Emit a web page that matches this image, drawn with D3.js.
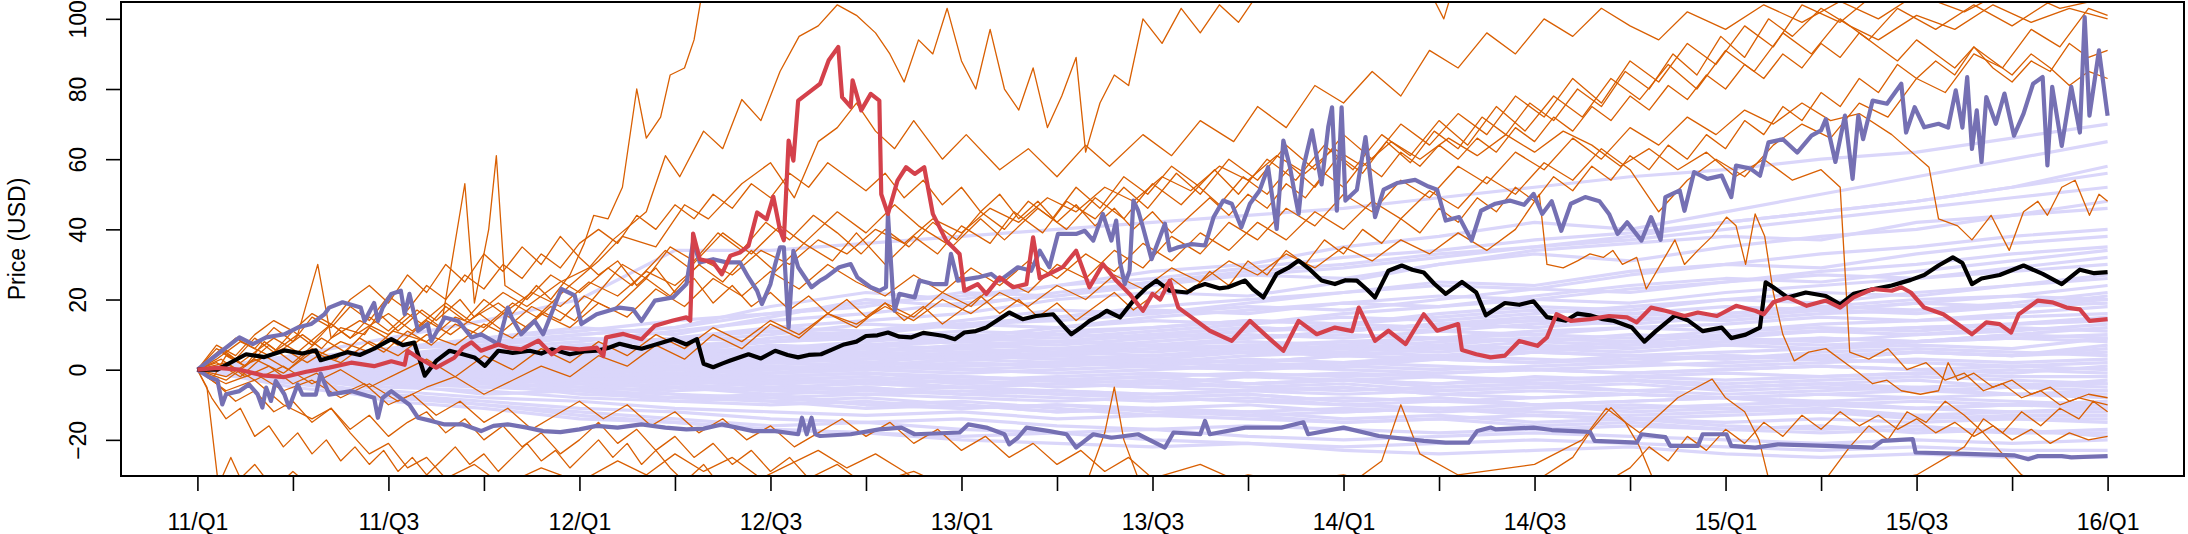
<!DOCTYPE html>
<html>
<head>
<meta charset="utf-8">
<script src="https://cdn.jsdelivr.net/npm/d3@7"></script>
<style>
body { margin: 0; background: #fff; }
text { font-family: "Liberation Sans", Arial, Helvetica, sans-serif; }
</style>
</head>
<body>
<div id="svgWrapper"></div>
<script>

// time is counted in quarters since 2011/Q1 (0 = 11/Q1, 20 = 16/Q1)
var quarterTicks = [0,1,2,3,4,5,6,7,8,9,10,11,12,13,14,15,16,17,18,19,20];
var quarterLabels = ["11/Q1","","11/Q3","","12/Q1","","12/Q3","","13/Q1","","13/Q3","","14/Q1","","14/Q3","","15/Q1","","15/Q3","","16/Q1"];
var priceTicks = [-20, 0, 20, 40, 60, 80, 100];

// background portfolios, one value per quarter
var lavenderLines = [
	[0,3,6,8,10,12,18,22,20,24,28,30,35,38,42,40,45,50,55,60,65],
	[0,2,5,9,12,10,15,20,18,22,25,28,30,33,35,38,42,45,48,52,56],
	[0,4,3,7,9,8,12,14,16,20,22,21,25,30,33,31,35,38,40,44,48],
	[0,1,4,6,5,8,10,13,12,15,18,20,22,25,24,28,30,33,35,38,40],
	[0,2,2,5,7,6,9,11,13,14,16,18,17,20,23,22,25,28,30,33,35],
	[0,-1,3,4,6,7,8,10,9,12,14,13,16,18,20,19,22,24,26,28,30],
	[0,1,2,3,5,4,6,8,10,9,11,13,15,14,16,18,20,19,22,24,26],
	[0,0,1,3,2,4,5,7,6,8,10,9,11,13,12,14,16,18,17,19,22],
	[0,1,-1,2,3,5,4,5,7,6,8,10,9,11,10,12,13,15,14,16,18],
	[0,-1,0,1,2,1,3,4,3,5,6,7,6,8,9,8,10,11,12,13,15],
	[0,0,1,0,1,2,2,3,4,3,4,5,6,5,7,6,8,9,8,10,12],
	[0,1,0,-1,0,1,0,2,1,2,3,2,4,3,5,4,5,6,7,6,9],
	[0,-1,-2,-1,0,-1,0,1,0,1,2,1,2,3,2,3,4,3,5,4,6],
	[0,0,-1,-2,-1,-2,-1,0,-1,0,1,0,1,0,1,2,1,2,3,2,3],
	[0,-1,-2,-3,-2,-3,-4,-3,-2,-3,-2,-1,-2,-1,0,-1,0,1,0,1,0],
	[0,-2,-3,-2,-4,-3,-5,-4,-5,-4,-5,-4,-3,-4,-3,-2,-3,-2,-1,-2,-2],
	[0,-1,-3,-4,-5,-6,-5,-6,-7,-6,-7,-6,-7,-6,-5,-6,-5,-4,-5,-4,-5],
	[0,-2,-4,-5,-6,-7,-8,-7,-8,-9,-8,-9,-8,-9,-8,-7,-8,-7,-8,-7,-8],
	[0,-3,-5,-6,-8,-9,-10,-9,-11,-10,-11,-12,-11,-12,-11,-10,-11,-10,-11,-12,-11],
	[0,-2,-6,-8,-9,-11,-12,-13,-12,-14,-13,-14,-15,-14,-13,-14,-15,-14,-15,-14,-14],
	[0,-4,-7,-9,-11,-12,-14,-15,-14,-16,-17,-16,-17,-18,-17,-16,-17,-18,-17,-18,-17],
	[0,-5,-8,-10,-12,-14,-16,-15,-17,-18,-17,-19,-20,-19,-18,-19,-20,-21,-20,-21,-20],
	[0,-3,-9,-11,-14,-15,-17,-18,-19,-18,-20,-21,-22,-21,-20,-21,-22,-23,-22,-23,-23],
	[0,3,5,4,7,9,11,10,13,15,17,16,19,21,20,23,25,27,26,29,32],
	[0,2,4,6,8,11,14,16,19,21,24,27,29,32,35,37,40,43,46,49,52],
	[0,1,3,2,4,6,5,7,9,8,10,12,11,13,15,14,16,18,20,21,24],
	[0,0,2,1,3,2,4,3,5,4,6,5,7,6,8,7,9,8,10,11,13],
	[0,-1,1,0,-1,0,-1,1,0,-1,0,1,0,-1,0,-1,0,1,0,-1,1],
	[0,-2,-1,-3,-2,-4,-3,-2,-4,-3,-4,-2,-3,-4,-2,-3,-4,-3,-2,-3,-4],
	[0,-1,-4,-3,-6,-5,-7,-6,-5,-7,-8,-7,-9,-8,-10,-9,-8,-10,-9,-10,-9],
	[0,-3,-4,-7,-6,-9,-8,-10,-11,-10,-12,-13,-12,-11,-13,-14,-13,-12,-14,-13,-13],
	[0,4,9,14,20,34,34,36,38,40,42,44,46,49,52,55,57,60,62,66,70],
	[0,2,6,7,10,12,16,18,22,21,25,27,26,30,34,36,38,37,42,44,46],
	[0,1,1,3,4,3,6,7,8,7,9,11,12,11,13,15,14,16,17,18,20],
	[0,-1,0,-1,-2,-1,-2,-1,-3,-2,-1,-2,-1,-2,-3,-2,-1,-2,-1,0,-1],
	[0,-2,-5,-4,-7,-8,-9,-11,-10,-12,-11,-10,-12,-11,-12,-13,-12,-11,-13,-12,-12],
	[0,-3,-7,-10,-13,-15,-17,-18,-20,-21,-22,-21,-23,-24,-23,-22,-24,-25,-24,-25,-25],
	[0,1,3,5,4,6,8,9,11,10,12,14,13,15,17,16,18,17,19,21,20],
	[0,1,2,1,3,4,3,5,4,6,5,7,8,7,9,8,10,11,10,12,11],
	[0,-1,-1,0,-1,0,1,0,2,1,3,2,1,3,2,4,3,4,5,4,5],
	[0,0,-2,-1,-3,-2,-3,-4,-3,-5,-4,-5,-4,-6,-5,-4,-6,-5,-6,-5,-6],
	[0,-1,-3,-2,-4,-5,-6,-5,-7,-8,-9,-8,-10,-9,-10,-11,-10,-9,-11,-10,-10],
	[0,2,1,3,2,4,5,4,6,5,7,6,8,9,8,10,9,11,12,13,14],
	[0,1,0,2,1,0,2,1,3,2,1,3,2,4,3,2,4,3,5,4,7],
	[0,-2,-2,-4,-3,-5,-4,-6,-5,-6,-7,-6,-5,-7,-6,-7,-8,-7,-6,-7,-7],
	[0,-1,-2,-4,-5,-4,-6,-7,-6,-7,-8,-9,-10,-11,-10,-12,-11,-12,-13,-14,-15],
	[0,0,1,2,1,2,3,2,4,3,2,4,5,4,6,5,7,6,8,9,10],
	[0,-1,0,-2,-1,-3,-2,-1,-2,-3,-2,-4,-3,-2,-4,-3,-5,-4,-3,-5,-3],
	[0,1,2,4,3,5,6,5,7,8,7,9,10,9,11,12,11,13,14,15,16],
	[0,-1,1,2,1,3,2,4,3,5,4,6,5,7,6,8,7,9,8,10,9],
	[0,0,-1,1,0,2,1,0,2,1,3,2,4,3,5,4,3,5,6,5,4],
	[0,-2,-1,-3,-2,-1,-3,-2,-4,-3,-2,-4,-3,-5,-4,-3,-5,-4,-6,-5,-4],
	[0,-1,-3,-2,-5,-4,-6,-5,-7,-6,-8,-7,-9,-8,-10,-9,-8,-10,-11,-10,-11],
	[0,2,3,2,4,6,5,7,8,10,9,11,13,12,14,16,15,17,19,18,21],
	[0,1,3,4,6,5,8,9,8,11,12,14,13,16,18,17,20,22,21,24,27],
	[0,3,2,5,7,9,8,11,13,12,15,17,19,18,21,24,26,25,28,31,34],
	[0,2,4,7,6,9,12,11,14,17,16,19,22,24,23,27,30,29,33,36,38],
	[0,-1,-3,-5,-4,-7,-9,-8,-10,-12,-11,-13,-15,-14,-16,-15,-17,-16,-18,-17,-19],
	[0,-2,-4,-3,-6,-8,-7,-10,-9,-11,-13,-12,-14,-13,-15,-14,-16,-17,-16,-18,-18],
	[0,1,0,-1,1,0,-1,0,1,2,1,0,2,1,0,1,2,3,2,1,2],
	[0,0,2,3,2,3,4,6,5,6,7,8,7,9,10,9,11,12,11,13,14],
	[0,-1,-2,-2,-3,-3,-2,-4,-5,-4,-5,-6,-5,-7,-8,-7,-8,-9,-8,-9,-10],
	[0,2,1,3,5,4,7,6,9,8,10,12,11,13,14,13,15,17,16,18,19],
	[0,1,2,0,1,3,2,1,3,4,3,5,4,6,5,7,8,7,8,9,8],
	[0,-1,0,-2,-3,-2,-4,-3,-5,-4,-3,-5,-6,-5,-4,-6,-7,-6,-5,-7,-6],
	[0,3,6,9,11,14,16,19,21,24,26,29,32,34,37,39,42,45,48,52,58]
];

// highlighted single stocks, [quarter, price]
var orange01 = [[0,0],[0.15,-3],[0.3,4],[0.5,1],[0.7,8],[0.85,5],[1.1,10],[1.3,6],[1.5,12],[1.75,10],[1.9,16],[2.1,11],[2.35,17],[2.5,14],[2.75,20],[2.9,15],[3.15,19],[3.3,16],[3.55,24],[3.7,20],[3.9,27],[4.05,36],[4.15,44],[4.3,43],[4.45,52],[4.6,80],[4.7,66],[4.85,72],[4.95,84],[5.1,86],[5.2,94],[5.3,110],[6.5,118],[20,130]];
var orange02 = [[0,0],[0.25,6],[0.45,2],[0.8,9],[1.05,5],[1.4,13],[1.6,9],[2.0,16],[2.25,11],[2.6,19],[2.85,14],[3.2,22],[3.45,18],[3.8,25],[4.1,29],[4.35,37],[4.7,45],[4.9,61],[5.05,55],[5.3,68],[5.5,63],[5.7,77],[5.9,71],[6.1,85],[6.3,95],[6.5,98],[6.7,104],[6.9,101],[7.1,96],[7.25,90],[7.4,82],[7.55,94],[7.7,90],[7.85,103],[8.0,88],[8.15,80],[8.3,97],[8.45,80],[8.6,74],[8.75,86],[8.9,69],[9.05,78],[9.2,89],[9.3,62],[9.45,76],[9.6,84],[9.75,81],[9.9,100],[10.1,93],[10.3,103],[10.5,96],[10.7,104],[10.9,99],[11.1,107],[11.5,114],[12.9,108],[13.05,100],[13.15,109],[20,125]];
var orange03 = [[0,0],[0.3,-3],[0.55,2],[0.9,6],[1.15,2],[1.5,8],[1.8,5],[2.05,11],[2.4,8],[2.7,15],[3.0,12],[3.3,19],[3.55,15],[3.9,24],[4.2,31],[4.45,38],[4.8,35],[5.1,47],[5.35,43],[5.7,53],[6.0,59],[6.25,49],[6.5,65],[6.7,69],[6.9,76],[7.1,68],[7.3,63],[7.5,71],[7.8,60],[8.05,67],[8.4,57],[8.7,63],[9.0,55],[9.3,64],[9.55,58],[9.9,67],[10.2,61],[10.5,71],[10.85,65],[11.1,75],[11.4,69],[11.7,81],[12.0,76],[12.3,85],[12.6,78],[12.9,91],[13.2,86],[13.5,96],[13.8,90],[14.1,100],[14.4,95],[14.7,103],[15,98],[15.3,94],[15.6,102],[16,97],[16.4,104],[16.8,99],[17.2,105],[17.6,100],[18,107],[18.5,102],[19,109],[19.5,103],[20,106]];
var orange04 = [[0,0],[0.2,3],[0.45,8],[0.75,4],[1.05,10],[1.26,30],[1.4,9],[1.7,14],[2.0,10],[2.3,17],[2.55,12],[2.8,53],[2.9,19],[3.05,40],[3.13,61],[3.22,24],[3.45,20],[3.7,27],[4.0,22],[4.3,29],[4.55,24],[4.9,34],[5.15,29],[5.5,39],[5.8,33],[6.1,41],[6.35,36],[6.7,45],[7.0,39],[7.3,47],[7.55,41],[7.9,35],[8.2,43],[8.45,37],[8.8,46],[9.1,40],[9.4,49],[9.7,43],[10.0,53],[10.3,47],[10.65,57],[10.9,50],[11.2,60],[11.5,54],[11.8,64],[12.1,57],[12.4,67],[12.7,61],[13.0,71],[13.3,64],[13.6,75],[13.9,68],[14.2,78],[14.5,72],[14.8,83],[15.1,77],[15.4,87],[15.7,80],[16.0,91],[16.3,85],[16.6,96],[16.9,90],[17.2,100],[17.5,94],[17.8,103],[18.2,97],[18.6,104],[19,98],[19.4,105],[20,110]];
var orange05 = [[0,0],[0.25,5],[0.5,1],[0.75,7],[1.0,2],[1.3,9],[1.55,5],[1.8,12],[2.1,7],[2.4,14],[2.65,10],[2.95,16],[3.2,11],[3.5,18],[3.8,14],[4.05,21],[4.35,17],[4.7,26],[4.95,21],[5.25,30],[5.5,25],[5.8,34],[6.05,28],[6.35,36],[6.65,31],[6.9,39],[7.2,30],[7.5,38],[7.75,33],[8.0,41],[8.3,36],[8.55,45],[8.85,39],[9.1,48],[9.4,43],[9.7,52],[9.95,46],[10.25,56],[10.5,50],[10.8,60],[11.1,54],[11.4,64],[11.7,57],[12.0,67],[12.3,60],[12.6,70],[12.9,64],[13.2,73],[13.5,67],[13.8,78],[14.1,72],[14.4,83],[14.7,76],[15.0,88],[15.3,82],[15.6,93],[15.9,87],[16.2,98],[16.5,92],[16.8,104],[17.2,99],[17.6,108],[20,118]];
var orange06 = [[0,0],[0.3,-2],[0.6,3],[0.9,-1],[1.2,5],[1.5,2],[1.8,8],[2.1,4],[2.4,10],[2.7,7],[3.0,13],[3.3,9],[3.6,16],[3.9,12],[4.2,19],[4.5,15],[4.8,23],[5.1,18],[5.4,26],[5.7,21],[6.0,28],[6.3,23],[6.6,30],[6.9,25],[7.2,21],[7.5,27],[7.8,22],[8.1,29],[8.4,24],[8.7,31],[9.0,26],[9.3,33],[9.6,28],[9.9,36],[10.2,31],[10.5,39],[10.8,34],[11.1,42],[11.4,37],[11.7,45],[12.0,40],[12.3,48],[12.6,43],[12.9,51],[13.2,46],[13.5,55],[13.8,50],[14.1,59],[14.4,54],[14.7,63],[15.0,57],[15.3,45],[15.6,54],[15.9,60],[16.2,55],[16.5,64],[16.8,70],[17.1,66],[17.4,76],[17.7,72],[18.0,83],[18.3,79],[18.6,90],[18.9,86],[19.2,97],[19.5,92],[19.8,103],[20,101]];
var orange07 = [[0,0],[0.2,4],[0.4,9],[0.6,6],[0.8,12],[1.0,8],[1.2,15],[1.4,12],[1.6,18],[1.8,14],[2.0,21],[2.2,17],[2.4,24],[2.6,20],[2.8,27],[3.0,23],[3.2,30],[3.4,26],[3.6,33],[3.8,29],[4.0,36],[4.2,40],[4.4,36],[4.6,44],[4.8,40],[5.0,47],[5.2,43],[5.4,50],[5.6,46],[5.8,53],[6.0,49],[6.2,56],[6.4,52],[6.6,59],[6.8,55],[7.0,51],[7.2,56],[7.4,49],[7.6,54],[7.8,47],[8.0,52],[8.2,45],[8.4,50],[8.6,43],[8.8,48],[9.0,42],[9.2,47],[9.4,41],[9.6,46],[9.8,40],[10.0,45],[10.2,39],[10.4,44],[10.6,49],[10.8,44],[11.0,50],[11.2,46],[11.4,53],[11.6,49],[11.8,56],[12.0,52],[12.2,59],[12.4,55],[12.6,62],[12.8,58],[13.0,64],[13.2,60],[13.4,66],[13.6,62],[13.8,69],[14.0,65],[14.2,72],[14.4,68],[14.6,75],[14.8,71],[15.0,78],[15.2,74],[15.4,81],[15.6,77],[15.8,84],[16.0,80],[16.2,87],[16.4,83],[16.6,90],[16.8,86],[17.0,93],[17.2,89],[17.4,96],[17.6,92],[17.8,88],[18.0,94],[18.2,90],[18.4,86],[18.6,92],[18.8,88],[19.0,84],[19.2,90],[19.4,86],[19.6,81],[19.8,85],[20,83]];
var orange08 = [[0,0],[0.3,-4],[0.6,-1],[0.9,-6],[1.2,-3],[1.5,-8],[1.8,-4],[2.1,-9],[2.4,-5],[2.7,-2],[3.0,-7],[3.3,-3],[3.6,1],[3.9,-2],[4.2,4],[4.5,1],[4.8,7],[5.1,3],[5.4,10],[5.7,6],[6.0,13],[6.3,9],[6.6,16],[6.9,12],[7.2,19],[7.5,15],[7.8,22],[8.1,18],[8.4,26],[8.7,22],[9.0,30],[9.3,26],[9.6,34],[9.9,29],[10.2,38],[10.5,33],[10.8,42],[11.1,37],[11.4,46],[11.7,41],[12.0,50],[12.3,45],[12.6,54],[12.9,49],[13.2,58],[13.5,53],[13.8,62],[14.1,57],[14.4,66],[14.7,60],[15.0,69],[15.3,64],[15.6,72],[15.9,67],[16.2,74],[16.5,70],[16.8,76],[17.1,71],[17.4,73],[17.74,67],[18.13,57.7],[18.23,43],[18.43,41],[18.58,37],[18.78,44],[18.97,34],[19.12,45],[19.27,48],[19.37,44],[19.52,52],[19.66,54],[19.81,44],[19.91,50],[20,48]];
var orange09 = [[0,0],[0.3,2],[0.6,-3],[0.9,1],[1.2,-4],[1.5,0],[1.8,-5],[2.1,-1],[2.4,3],[2.7,-2],[3.0,4],[3.3,0],[3.6,6],[3.9,2],[4.2,8],[4.5,4],[4.8,10],[5.1,6],[5.4,12],[5.7,8],[6.0,14],[6.3,10],[6.6,16],[6.9,13],[7.2,18],[7.5,14],[7.8,20],[8.1,16],[8.4,22],[8.7,18],[9.0,24],[9.3,20],[9.6,27],[9.9,23],[10.2,29],[10.5,25],[10.8,31],[11.1,27],[11.4,33],[11.7,29],[12.0,35],[12.3,31],[12.6,37],[12.9,33],[13.2,39],[13.5,34],[13.8,40],[14.05,50],[14.13,30],[14.3,29],[14.45,31],[14.58,33],[14.72,32],[14.82,34],[14.92,30],[15.07,32],[15.17,23],[15.32,30],[15.47,37],[15.57,30],[15.71,34],[15.86,38],[16.01,43.5],[16.11,41],[16.21,30],[16.31,44.4],[16.41,38],[16.5,22],[16.6,10],[16.72,2.5],[16.87,5],[17.05,6],[17.3,1],[17.4,-1],[17.54,-4],[17.69,-3],[17.84,-6],[18.04,-7],[18.23,-6],[18.33,2],[18.43,-3],[18.6,-1],[18.8,-5],[19.0,-3],[19.2,-7],[19.4,-5],[19.6,-9],[19.8,-7],[20,-8]];
var orange10 = [[0,0],[0.2,6],[0.4,3],[0.6,9],[0.8,5],[1.0,11],[1.2,7],[1.4,13],[1.6,9],[1.8,15],[2.0,11],[2.2,16],[2.4,12],[2.6,18],[2.8,14],[3.0,20],[3.2,16],[3.5,22],[3.8,18],[4.1,25],[4.4,21],[4.7,28],[5.0,24],[5.3,31],[5.6,27],[5.9,34],[6.2,30],[6.5,37],[6.8,33],[7.1,40],[7.4,36],[7.7,43],[8.0,39],[8.3,46],[8.6,42],[8.9,49],[9.2,45],[9.5,52],[9.8,48],[10.1,55],[10.4,51],[10.7,58],[11.0,54],[11.3,61],[11.6,56],[11.9,63],[12.2,58],[12.5,65],[12.8,60],[13.1,66],[13.4,61],[13.7,67],[14.0,62],[14.3,68],[14.6,64],[14.9,58],[15.2,63],[15.5,57],[15.8,62],[16.1,55],[16.4,60],[16.7,54],[17.0,57],[17.2,52],[17.3,5],[17.5,3],[17.7,6],[17.9,0],[18.1,2],[18.3,-3],[18.5,-1],[18.7,-6],[18.9,-4],[19.1,-8],[19.3,-6],[19.5,-10],[19.7,-8],[20,-10]];
var orange11 = [[0,0],[0.1,-5],[0.22,-33],[0.35,-25],[0.45,-31],[0.6,-27],[0.8,-34],[1.0,-29],[1.3,-36],[2,-40],[4,-45],[8,-50],[12,-48],[16,-52],[20,-55]];
var orange12 = [[0,0],[0.15,-8],[0.3,-14],[0.45,-11],[0.6,-19],[0.75,-16],[0.9,-22],[1.05,-18],[1.2,-24],[1.35,-20],[1.5,-26],[1.65,-22],[1.8,-27],[1.95,-23],[2.1,-29],[2.25,-25],[2.4,-30],[2.55,-26],[2.7,-22],[2.85,-27],[3.0,-24],[3.15,-29],[3.3,-25],[3.45,-21],[3.6,-26],[3.75,-23],[3.9,-28],[4.05,-24],[4.2,-20],[4.35,-25],[4.5,-21],[4.65,-27],[4.8,-23],[4.95,-28],[5.1,-32],[5.3,-27],[5.5,-34],[6,-38],[8,-40],[9.3,-33],[9.5,-18],[9.6,-5],[9.7,-20],[9.85,-31],[11,-38],[14,-40],[20,-45]];
var orange13 = [[0,0],[0.2,-4],[0.4,-9],[0.6,-6],[0.8,-12],[1.0,-9],[1.2,-15],[1.4,-11],[1.6,-17],[1.8,-13],[2.0,-19],[2.2,-15],[2.4,-12],[2.6,-18],[2.8,-14],[3.0,-20],[3.2,-16],[3.4,-22],[3.6,-18],[3.8,-24],[4.0,-20],[4.2,-15],[4.4,-21],[4.6,-17],[4.8,-23],[5.0,-19],[5.2,-25],[5.4,-21],[5.6,-27],[5.8,-23],[6.0,-29],[6.2,-25],[6.4,-31],[6.7,-27],[7.0,-33],[7.5,-29],[8.0,-35],[9,-32],[10,-36],[11,-30],[12,-34],[12.4,-26],[12.6,-10],[12.8,-24],[13.2,-30],[14,-27],[14.5,-20],[14.75,-11],[14.9,-14],[15.1,-18],[15.3,-13],[15.5,-8],[15.7,-5],[15.86,-2.7],[16.0,-8],[16.2,-12],[16.35,-20],[16.45,-31],[17,-35],[18,-30],[18.5,-22],[18.7,-14],[18.9,-18],[19.1,-12],[19.3,-16],[19.5,-11],[19.7,-14],[19.85,-9],[20,-12]];
var orange14 = [[0,0],[0.25,3],[0.5,-2],[0.75,1],[1.0,-4],[1.25,-1],[1.5,-7],[1.75,-4],[2.0,-10],[2.25,-7],[2.5,-13],[2.75,-9],[3.0,-15],[3.25,-11],[3.5,-17],[3.75,-13],[4.0,-9],[4.25,-14],[4.5,-10],[4.75,-16],[5.0,-12],[5.25,-18],[5.5,-14],[5.75,-20],[6.0,-16],[6.25,-22],[6.5,-18],[6.75,-14],[7.0,-19],[7.25,-15],[7.5,-21],[7.75,-17],[8.0,-23],[8.25,-19],[8.5,-25],[8.75,-21],[9.0,-27],[9.25,-23],[9.5,-29],[9.75,-25],[10,-31],[10.5,-27],[11,-33],[12,-30],[13,-36],[14,-32],[14.4,-25],[14.6,-17],[14.8,-10.8],[14.95,-15],[15.1,-22],[15.3,-35],[16,-40],[17,-33],[17.3,-22],[17.5,-16],[17.7,-20],[17.9,-12],[18.1,-15],[18.3,-9],[18.5,-13],[18.7,-18],[18.9,-24],[19.1,-30],[19.5,-35],[20,-38]];
var orange15 = [[0,0],[0.3,-6],[0.6,-3],[0.9,-10],[1.2,-14],[1.4,-11],[1.6,-18],[1.8,-24],[2.0,-21],[2.2,-28],[2.4,-25],[2.6,-31],[2.9,-27],[3.2,-33],[3.6,-28],[4.0,-32],[4.4,-26],[4.7,-30],[5.0,-24],[5.3,-29],[5.6,-25],[5.9,-31],[6.2,-27],[6.5,-23],[6.8,-28],[7.1,-24],[7.4,-29],[7.7,-35],[9,-38],[12,-40],[14.5,-36],[15,-28],[15.2,-22],[15.4,-26],[15.6,-19],[15.8,-23],[16.0,-17],[16.2,-21],[16.4,-15],[16.6,-19],[16.8,-13],[17.0,-17],[17.2,-12],[17.4,-16],[17.6,-13],[17.8,-17],[18.0,-14],[18.2,-18],[18.4,-15],[18.6,-19],[18.8,-16],[19.0,-20],[19.2,-17],[19.4,-21],[19.6,-18],[19.8,-20],[20,-19]];
var orange16 = [[0,0],[0.2,7],[0.4,4],[0.6,10],[0.8,14],[1.0,11],[1.2,16],[1.4,13],[1.6,20],[1.8,24],[2.0,19],[2.2,27],[2.4,22],[2.6,30],[2.8,25],[3.0,33],[3.2,28],[3.4,35],[3.6,30],[3.8,38],[4.0,32],[4.2,27],[4.4,31],[4.6,24],[4.8,29],[5.0,22],[5.2,26],[5.4,19],[5.6,24],[5.8,18],[6.0,22],[6.2,17],[6.4,21],[6.6,16],[6.8,20],[7.0,15],[7.2,19],[7.4,14],[7.6,18],[7.8,13],[8.0,17],[8.2,21],[8.4,16],[8.6,20],[8.8,15],[9.0,19],[9.2,14],[9.4,18],[9.6,22],[9.8,17],[10.0,21],[10.2,26],[10.4,22],[10.6,28],[10.8,24],[11.0,31],[11.2,27],[11.4,34],[11.6,30],[11.8,37],[12.0,33],[12.2,40],[12.4,36],[12.6,43],[12.8,39],[13.0,46],[13.2,42],[13.4,49],[13.6,45],[13.8,52],[14.0,48],[14.2,55],[14.4,51],[14.6,58],[14.8,54],[15.0,61],[15.2,57],[15.4,64],[15.6,60],[15.8,67],[16.0,63],[16.2,71],[16.4,67],[16.6,75],[16.8,71],[17.0,79],[17.2,75],[17.4,83],[17.6,79],[17.8,87],[18.0,83],[18.2,88],[18.4,84],[18.6,92],[18.8,86],[19.0,82],[19.2,88],[19.4,85],[19.6,93],[19.8,89],[20,91]];
var orange17 = [[0,0],[0.2,2],[0.45,-2],[0.7,4],[0.95,0],[1.2,6],[1.45,3],[1.7,9],[1.95,5],[2.2,11],[2.45,7],[2.7,13],[2.95,10],[3.2,16],[3.45,12],[3.7,18],[3.95,14],[4.2,22],[4.45,30],[4.7,26],[4.95,35],[5.2,31],[5.45,39],[5.7,34],[5.95,42],[6.2,37],[6.45,44],[6.7,39],[6.95,33],[7.2,40],[7.45,35],[7.7,42],[7.95,37],[8.2,45],[8.45,40],[8.7,48],[8.95,43],[9.2,52],[9.45,46],[9.7,55],[9.95,50],[10.2,58],[10.45,53],[10.7,47],[10.95,55],[11.2,50],[11.45,58],[11.7,52],[11.95,61],[12.2,56],[12.45,65],[12.7,59],[12.95,68],[13.2,63],[13.45,72],[13.7,67],[13.95,76],[14.2,71],[14.45,80],[14.7,75],[14.95,85],[15.2,80],[15.45,90],[15.7,84],[15.95,95],[16.2,89],[16.45,100],[16.7,95],[17,103],[17.3,98],[17.6,94],[18,101],[18.4,97],[18.8,104],[19.2,99],[19.6,103],[20,100]];
var orangeLines = [orange01, orange02, orange03, orange04, orange05, orange06, orange07, orange08, orange09,
	orange10, orange11, orange12, orange13, orange14, orange15, orange16, orange17];

// upper and lower envelope
var upperBand = [[0,0],[0.21,4.4],[0.44,9.2],[0.58,7.3],[0.72,9.2],[0.91,10.1],[1.05,12],[1.19,13],[1.33,15.8],[1.38,17.7],[1.52,19.2],[1.71,17.7],[1.75,13.9],[1.85,19],[1.89,13.9],[1.94,17.7],[2.03,21.6],[2.13,22.5],[2.17,15.8],[2.22,21.6],[2.31,11.1],[2.41,13],[2.45,8.2],[2.59,14.9],[2.73,13.9],[2.87,9.2],[2.97,10.1],[3.15,7.3],[3.25,17.7],[3.29,14.9],[3.39,10.1],[3.53,13.9],[3.62,10.1],[3.81,23],[3.95,21.2],[4.02,13],[4.18,15.8],[4.42,17.7],[4.56,17.2],[4.65,13.9],[4.79,19.7],[4.98,20.6],[5.12,24.4],[5.19,36.4],[5.26,30.6],[5.4,31.5],[5.54,30.6],[5.68,30.6],[5.77,26.3],[5.86,22.5],[5.91,18.7],[6.0,24.4],[6.05,30.1],[6.1,34.9],[6.14,34.9],[6.19,12],[6.24,33.9],[6.29,29.2],[6.43,23.5],[6.52,25.4],[6.58,26.3],[6.72,29.2],[6.84,30.1],[6.91,26.3],[7.05,23.5],[7.14,22.5],[7.21,23.5],[7.23,44.4],[7.28,22.5],[7.3,16.8],[7.35,21.6],[7.51,20.6],[7.56,25.4],[7.7,24.4],[7.84,24.4],[7.89,33],[7.96,25.4],[8.17,26.3],[8.31,27.3],[8.4,25.4],[8.59,29.2],[8.73,28.2],[8.82,33.9],[8.92,29.2],[9.01,38.7],[9.2,38.7],[9.29,39.6],[9.38,36.8],[9.48,44.4],[9.57,36.8],[9.62,42.5],[9.66,30.6],[9.71,24.4],[9.76,28.2],[9.8,48.2],[9.85,45.3],[9.9,40.6],[9.99,31.5],[10.13,41.6],[10.18,34],[10.27,34.9],[10.41,35.8],[10.55,35.4],[10.64,43.5],[10.74,48.2],[10.83,47.3],[10.93,40.6],[11.02,47.3],[11.12,51],[11.21,57.7],[11.3,40.1],[11.37,65.3],[11.44,57.7],[11.49,50],[11.53,44.4],[11.58,57.7],[11.67,68.2],[11.77,52.8],[11.84,69.2],[11.88,74.8],[11.93,45.3],[11.98,74.8],[12.02,48.2],[12.14,51.3],[12.23,66.3],[12.33,43.5],[12.42,51.3],[12.56,53.2],[12.75,54.1],[12.89,52.2],[12.98,51.3],[13.07,42.5],[13.21,43.5],[13.34,36.8],[13.44,45.3],[13.59,47.3],[13.74,48.2],[13.89,47],[13.99,50.1],[14.08,44.4],[14.18,48],[14.28,39.6],[14.38,47.3],[14.53,49.2],[14.68,48],[14.78,44.4],[14.87,38.7],[14.97,42],[15.12,36.8],[15.22,43.5],[15.32,37],[15.37,49.2],[15.52,51.1],[15.57,45.3],[15.67,56.3],[15.81,54.4],[15.96,55.3],[16.06,49.2],[16.11,58.2],[16.26,57.3],[16.36,55.3],[16.45,64.8],[16.6,65.7],[16.75,61.9],[16.9,66.7],[17.0,68.2],[17.05,71.4],[17.15,59.2],[17.25,72.4],[17.33,54.4],[17.39,72.4],[17.44,65.7],[17.54,76.7],[17.69,75.8],[17.84,81.5],[17.89,67.6],[17.98,74.8],[18.08,69.1],[18.23,70.1],[18.33,69],[18.41,79.6],[18.48,69],[18.53,83.4],[18.58,62.9],[18.63,73.9],[18.68,59.2],[18.73,77.7],[18.83,70.1],[18.92,78.7],[19.02,66.7],[19.12,73],[19.22,81.5],[19.32,83.4],[19.37,58.2],[19.42,80.6],[19.52,63.8],[19.62,80.6],[19.71,67.6],[19.76,100.5],[19.81,72.4],[19.91,91],[20,72.4]];
var lowerBand = [[0,0],[0.12,-2.1],[0.21,-3],[0.26,-9.9],[0.3,-7],[0.44,-6.1],[0.54,-4.2],[0.63,-7],[0.68,-10.8],[0.72,-5.1],[0.77,-8.9],[0.82,-3.2],[0.91,-7],[0.96,-10.8],[1.05,-4.2],[1.1,-7.1],[1.24,-7.1],[1.29,-1.1],[1.38,-7.1],[1.61,-6.1],[1.85,-8],[1.89,-13.7],[1.94,-8],[2.03,-6.1],[2.22,-10],[2.31,-13.7],[2.45,-14.6],[2.59,-15.6],[2.78,-15.6],[2.97,-17.5],[3.1,-16],[3.25,-15.6],[3.45,-16.5],[3.62,-17.5],[3.8,-17.8],[4.0,-17],[4.18,-16],[4.4,-16.5],[4.65,-15.6],[4.9,-16.5],[5.12,-17],[5.3,-16.8],[5.49,-15.6],[5.82,-17.5],[6.05,-17.5],[6.29,-18.4],[6.33,-13.7],[6.38,-18.4],[6.43,-13.7],[6.47,-18.4],[6.52,-18.9],[6.84,-18.4],[7.14,-17],[7.37,-16.5],[7.51,-18.4],[7.98,-17.9],[8.07,-15.6],[8.26,-16.5],[8.45,-18.4],[8.5,-21.3],[8.59,-19.4],[8.68,-16.5],[8.92,-17.5],[9.1,-18.4],[9.2,-22.2],[9.38,-18.4],[9.57,-19.4],[9.85,-18.4],[10.13,-22.2],[10.22,-17.9],[10.5,-18.4],[10.55,-14.6],[10.6,-18.4],[10.97,-16.5],[11.35,-16.5],[11.58,-15],[11.63,-18.4],[12.0,-16.5],[12.37,-18.9],[12.84,-20.3],[13.07,-20.8],[13.31,-20.8],[13.4,-17.5],[13.54,-16.5],[13.59,-17],[13.99,-16.5],[14.18,-17.2],[14.58,-17.7],[14.63,-20.3],[15.07,-20.8],[15.12,-18.4],[15.37,-19.2],[15.42,-21.7],[15.71,-21.7],[15.76,-18.4],[16.01,-18.4],[16.06,-21.7],[16.31,-22.2],[16.55,-21.3],[17.05,-21.7],[17.54,-22.2],[17.64,-20.3],[17.96,-19.8],[17.99,-23.6],[18.53,-24],[19.02,-24.4],[19.17,-25.5],[19.27,-24.6],[19.52,-24.6],[19.62,-25],[20,-24.6]];

// median line (black) and the selected stock (red)
var medianLine = [[0,0],[0.21,0],[0.51,4.4],[0.7,3.6],[0.91,5.5],[1.1,4.6],[1.24,5.5],[1.29,2.7],[1.45,4],[1.57,5],[1.7,4.2],[1.85,6],[2.03,8.7],[2.15,7],[2.27,7.7],[2.38,-1.7],[2.5,2.5],[2.64,5.4],[2.78,4.4],[2.9,3.5],[3.01,1.1],[3.15,5.4],[3.3,4.8],[3.48,5.4],[3.6,4.6],[3.71,5.8],[3.9,4.4],[4.05,5.2],[4.18,5.4],[4.3,6.2],[4.42,7.4],[4.55,6.5],[4.65,6],[4.8,7.2],[4.98,8.7],[5.12,7.2],[5.23,8.7],[5.3,1.7],[5.4,0.7],[5.5,1.8],[5.58,2.6],[5.77,4.4],[5.9,3.2],[6.05,5.4],[6.18,4.2],[6.29,3.5],[6.4,4.2],[6.53,4.4],[6.65,5.8],[6.77,7.2],[6.9,8],[7.0,9.6],[7.12,9.8],[7.23,10.6],[7.35,9.4],[7.47,9.2],[7.6,10.5],[7.7,10.1],[7.82,9.6],[7.93,8.7],[8.03,10.6],[8.15,11],[8.26,12],[8.4,14.5],[8.5,16.3],[8.64,14.4],[8.78,15.3],[8.96,15.8],[9.05,13],[9.15,10.1],[9.25,12],[9.34,13.9],[9.45,15.5],[9.52,16.8],[9.66,14.9],[9.8,19.7],[9.94,23.4],[10.04,25.4],[10.18,22.5],[10.36,22],[10.45,23.5],[10.55,24.4],[10.7,23.2],[10.79,23.5],[10.97,25.4],[11.05,23],[11.16,20.6],[11.3,27.3],[11.42,29],[11.53,31.1],[11.65,28.5],[11.77,25.4],[11.91,24.4],[12.02,25.5],[12.14,25.4],[12.24,23],[12.33,20.6],[12.47,28.2],[12.61,29.7],[12.72,28.5],[12.84,27.7],[12.95,24.5],[13.07,21.6],[13.24,25],[13.39,22],[13.49,15.5],[13.69,19],[13.84,18.5],[13.99,19.5],[14.13,15],[14.33,14],[14.45,16],[14.58,15.5],[14.7,14.5],[14.82,14],[15.02,12],[15.15,8],[15.27,11],[15.47,15.5],[15.61,14],[15.76,11],[15.96,12],[16.06,9],[16.21,10],[16.36,12],[16.42,24.9],[16.5,23.5],[16.65,20.6],[16.84,22],[17.05,21],[17.2,18.6],[17.34,21.6],[17.54,22.9],[17.74,24],[17.94,25.6],[18.08,27],[18.23,29.7],[18.38,32],[18.48,30.4],[18.58,24.4],[18.68,26],[18.87,27],[19.12,29.7],[19.32,27.3],[19.52,24.4],[19.71,28.5],[19.86,27.5],[20,27.8]];
var selectedLine = [[0,0],[0.21,0.5],[0.44,0],[0.68,-1.6],[0.91,-2.1],[1.14,-0.6],[1.38,0.6],[1.61,2],[1.85,1],[2.03,2.4],[2.17,1.4],[2.2,5.4],[2.31,3.4],[2.5,0.6],[2.69,3.4],[2.78,6.3],[2.87,7.8],[2.97,5.4],[3.15,7.2],[3.25,6.3],[3.39,5.8],[3.57,8.3],[3.71,4.4],[3.81,6.3],[4.0,5.8],[4.18,6.3],[4.25,3.9],[4.28,9.2],[4.46,10.2],[4.65,8.7],[4.79,12.5],[4.98,14],[5.12,14.9],[5.16,14],[5.19,38.8],[5.26,31.5],[5.4,30.6],[5.49,27.2],[5.58,32.5],[5.68,33.4],[5.77,35.3],[5.86,44.8],[5.96,42.9],[6.03,49.3],[6.1,39.8],[6.14,36.9],[6.19,65.3],[6.24,59.6],[6.29,76.7],[6.43,79.6],[6.52,81.5],[6.61,88.2],[6.71,92],[6.75,77.7],[6.84,74.9],[6.86,82.5],[6.95,73.9],[7.05,78.6],[7.14,76.7],[7.16,50],[7.23,44.4],[7.33,53.9],[7.42,57.7],[7.51,55.8],[7.61,57.7],[7.7,44.4],[7.84,36.8],[7.98,33],[8.03,22.5],[8.17,24.4],[8.26,21.6],[8.4,26.3],[8.54,23.5],[8.68,24.4],[8.75,37.7],[8.82,26],[8.92,27.3],[9.06,29.2],[9.2,33.9],[9.34,23.5],[9.48,30.1],[9.62,25.4],[9.76,21.6],[9.9,16.8],[10.0,21.6],[10.08,20],[10.18,25.4],[10.27,17.7],[10.41,14.9],[10.6,11.1],[10.83,8.2],[11.02,13.9],[11.21,9.2],[11.37,5.4],[11.53,13.9],[11.72,10.1],[11.91,12],[12.09,11],[12.16,17.7],[12.33,8.2],[12.47,11.1],[12.65,7.3],[12.84,15.8],[12.98,11.1],[13.2,13],[13.24,5.6],[13.39,4.4],[13.54,3.5],[13.69,4],[13.84,8.2],[14.03,6.8],[14.13,9.2],[14.23,15.8],[14.38,13.9],[14.58,14.4],[14.78,15.3],[14.97,14.9],[15.07,13.5],[15.22,17.7],[15.37,16.8],[15.57,15.3],[15.71,16.3],[15.91,15.3],[16.11,18.2],[16.31,16.8],[16.4,15.8],[16.5,19.2],[16.65,20.6],[16.85,18.2],[17.05,19.7],[17.2,17.7],[17.34,20.6],[17.54,23],[17.74,22.5],[17.84,23.5],[17.94,22],[18.08,17.7],[18.28,15.8],[18.43,13],[18.58,10.1],[18.73,13.5],[18.87,13],[18.99,10.6],[19.07,15.8],[19.27,19.7],[19.42,19.2],[19.57,17.7],[19.71,17.2],[19.81,13.9],[20,14.4]];


function drawChart() {

	var fullWidth = 2188, fullHeight = 534;
	var plotLeft = 121, plotRight = 2184, plotTop = 2, plotBottom = 476;

	var svg = d3.select("#svgWrapper")
				.append("svg")
				.attr("width", fullWidth)
				.attr("height", fullHeight);

	svg.append("rect").attr("width", fullWidth).attr("height", fullHeight).attr("fill", "white");

	// R style: 4% padding round the data range
	var xScale = d3.scaleLinear().domain([-0.8, 20.8]).range([plotLeft, plotRight]);
	var yScale = d3.scaleLinear().domain([-30.3, 104.8]).range([plotBottom, plotTop]);

	svg.append("defs").append("clipPath").attr("id", "plotClip")
		.append("rect")
		.attr("x", plotLeft).attr("y", plotTop)
		.attr("width", plotRight - plotLeft).attr("height", plotBottom - plotTop);

	var line = d3.line()
		.x(function(d) { return xScale(d[0]); })
		.y(function(d) { return yScale(d[1]); });

	var plot = svg.append("g").attr("clip-path", "url(#plotClip)");

	// background lines, quarter index is the x value
	plot.selectAll("path.bg")
		.data(lavenderLines)
		.enter().append("path")
		.attr("class", "bg")
		.attr("fill", "none")
		.attr("stroke", "#dad6fa")
		.attr("stroke-width", 3.2)
		.attr("stroke-linejoin", "round")
		.attr("d", function(d) { return line(d.map(function(v, i) { return [i, v]; })); });

	plot.selectAll("path.stock")
		.data(orangeLines)
		.enter().append("path")
		.attr("class", "stock")
		.attr("fill", "none")
		.attr("stroke", "#d95f02")
		.attr("stroke-width", 1.3)
		.attr("stroke-linejoin", "round")
		.attr("d", line);

	var thick = [
		{data: lowerBand, color: "#7570b3"},
		{data: upperBand, color: "#7570b3"},
		{data: medianLine, color: "#000000"},
		{data: selectedLine, color: "#d4414b"}
	];
	plot.selectAll("path.thick")
		.data(thick)
		.enter().append("path")
		.attr("class", "thick")
		.attr("fill", "none")
		.attr("stroke", function(d) { return d.color; })
		.attr("stroke-width", 4.2)
		.attr("stroke-linejoin", "round")
		.attr("d", function(d) { return line(d.data); });

	// box
	svg.append("rect")
		.attr("x", plotLeft).attr("y", plotTop)
		.attr("width", plotRight - plotLeft).attr("height", plotBottom - plotTop)
		.attr("fill", "none").attr("stroke", "black").attr("stroke-width", 2);

	// x axis
	var xAxis = svg.append("g")
		.attr("transform", "translate(0," + plotBottom + ")")
		.call(d3.axisBottom(xScale).tickValues(quarterTicks).tickSize(15).tickSizeOuter(0)
			.tickFormat(function(d, i) { return quarterLabels[i]; }));
	xAxis.select(".domain").remove();
	xAxis.selectAll(".tick line").attr("stroke", "black").attr("stroke-width", 1.6);
	xAxis.selectAll(".tick text")
		.attr("dy", null)
		.attr("y", 54)
		.attr("fill", "black")
		.style("font-size", "23px");

	// y axis, labels parallel to the axis
	var yAxis = svg.append("g")
		.attr("transform", "translate(" + plotLeft + ",0)")
		.call(d3.axisLeft(yScale).tickValues(priceTicks).tickSize(15).tickSizeOuter(0));
	yAxis.select(".domain").remove();
	yAxis.selectAll(".tick line").attr("stroke", "black").attr("stroke-width", 1.6);
	yAxis.selectAll(".tick text")
		.attr("x", null).attr("dy", null)
		.attr("transform", "translate(-35,0) rotate(-90)")
		.attr("text-anchor", "middle")
		.attr("fill", "black")
		.style("font-size", "23px");

	svg.append("text")
		.attr("transform", "translate(25," + ((plotTop + plotBottom) / 2) + ") rotate(-90)")
		.attr("text-anchor", "middle")
		.style("font-size", "23px")
		.text("Price (USD)");
}

drawChart();

</script>
</body>
</html>
